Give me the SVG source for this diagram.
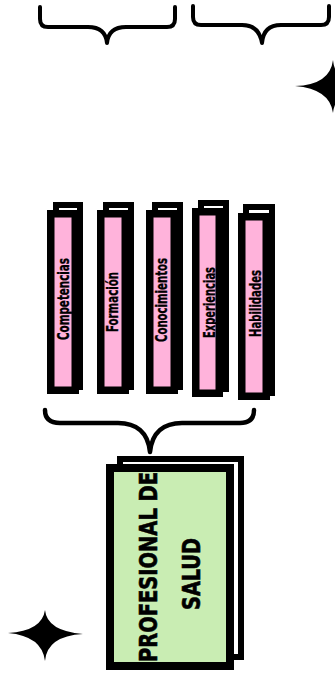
<svg xmlns="http://www.w3.org/2000/svg" width="335" height="687" viewBox="0 0 335 687">
<style>
.back{fill:#ffffff;stroke:#000;stroke-width:6}
.front{fill:#ffb3db;stroke:#000;stroke-width:7.5}
.gfront{fill:#c9edb3;stroke:#000;stroke-width:8}
.gback{fill:#ffffff;stroke:#000;stroke-width:6}
.brace{fill:none;stroke:#000;stroke-width:4;stroke-linecap:round;stroke-linejoin:round}
.lbl{font-family:"DejaVu Sans Condensed","DejaVu Sans",sans-serif;font-weight:bold;font-size:15px;fill:#000;text-anchor:middle;stroke:#000;stroke-width:0.3}
.big{font-family:"DejaVu Sans Condensed","DejaVu Sans",sans-serif;font-weight:bold;font-size:24px;fill:#000;text-anchor:middle;stroke:#000;stroke-width:0.6}
.star{fill:#000}
</style>
<g id="connectors">
<path class="brace" d="M40,7 L40,19 Q40,27 48,27 L88,27 C100,27 106,33 107,43 C108,33 114,27 126,27 L167,27 Q175,27 175,19 L175,7"/>
<path class="brace" d="M193,6 L193,17 Q193,25 201,25 L242,25 C254,25 260,31 262,43 C263,31 269,25 281,25 L321,25 Q329,25 329,17 L329,6"/>
<path class="brace" d="M45,410 Q45,423 60,423 L118,423 C136,423 148,432 150,452 C152,432 164,423 182,423 L240,423 Q254,423 254,410" style="stroke-width:4.5"/>
</g>
<g id="star-top"><path class="star" d="M295,86 Q330,85 333,60 Q335,85 371,87 Q335,89 333,113 Q330,89 295,86Z"/></g>
<g id="star-bottom"><path class="star" d="M8,633 Q42,631 45,610 Q47,631 83,634 Q47,636 45,661 Q42,636 8,633Z"/></g>
<g id="competencias">
<rect class="back" x="56" y="205" width="24" height="182"/>
<rect class="front" x="50.75" y="213.75" width="24.5" height="176.5"/>
<text class="lbl" transform="translate(68.5,299) rotate(-90)" textLength="82" lengthAdjust="spacingAndGlyphs">Competencias</text>
</g>
<g id="formacion">
<rect class="back" x="106" y="205" width="25" height="182"/>
<rect class="front" x="100.75" y="213.75" width="24.5" height="176.5"/>
<text class="lbl" transform="translate(118,302) rotate(-90)" textLength="60" lengthAdjust="spacingAndGlyphs">Formación</text>
</g>
<g id="conocimientos">
<rect class="back" x="155" y="205" width="25" height="182"/>
<rect class="front" x="149.75" y="213.75" width="24.5" height="176.5"/>
<text class="lbl" transform="translate(167,300) rotate(-90)" textLength="84" lengthAdjust="spacingAndGlyphs">Conocimientos</text>
</g>
<g id="experiencias">
<rect class="back" x="201" y="203" width="25" height="186"/>
<rect class="front" x="195.75" y="211.75" width="23.5" height="181.5"/>
<text class="lbl" transform="translate(215,302.5) rotate(-90)" textLength="71" lengthAdjust="spacingAndGlyphs">Experiencias</text>
</g>
<g id="habilidades">
<rect class="back" x="246" y="207" width="26" height="186"/>
<rect class="front" x="241.75" y="216.75" width="24.5" height="179.5"/>
<text class="lbl" transform="translate(261,303.5) rotate(-90)" textLength="67" lengthAdjust="spacingAndGlyphs">Habilidades</text>
</g>
<g id="profesional">
<rect class="gback" x="120" y="459" width="121" height="198"/>
<rect class="gfront" x="110" y="468" width="120" height="198"/>
<text class="big" transform="translate(157,567) rotate(-90)" textLength="190" lengthAdjust="spacingAndGlyphs">PROFESIONAL DE</text>
<text class="big" transform="translate(200,574) rotate(-90)" textLength="72" lengthAdjust="spacingAndGlyphs">SALUD</text>
</g>
</svg>
